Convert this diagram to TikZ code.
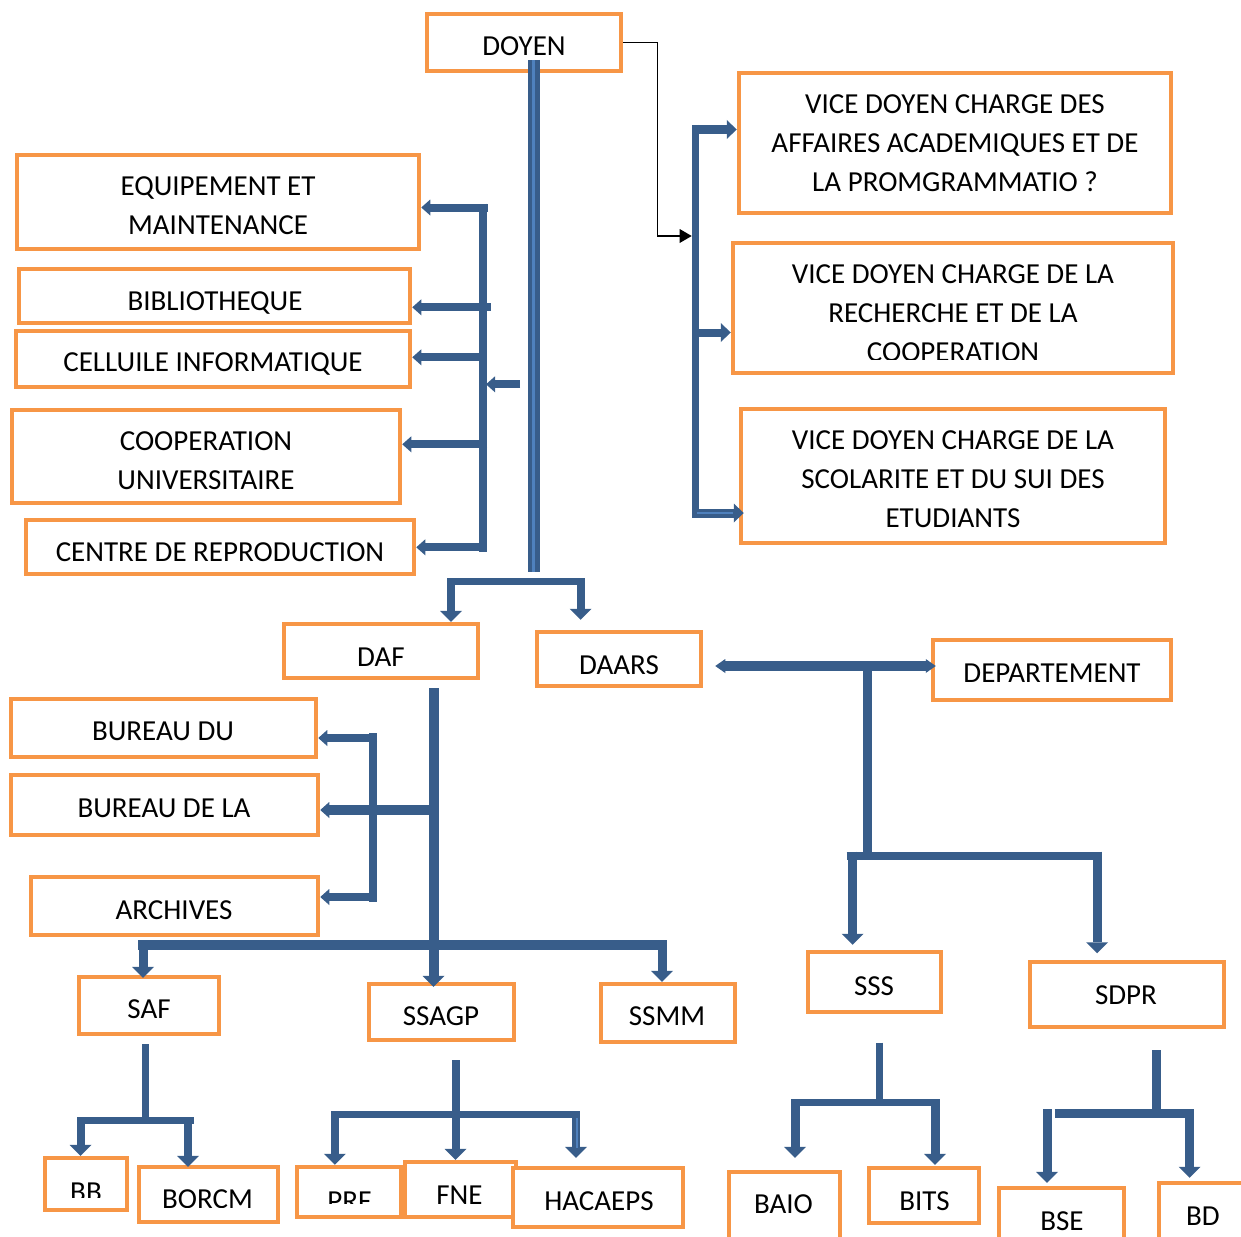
\documentclass[tikz,border=0pt]{standalone}
\usepackage{fontspec}
\setmainfont{Carlito}
\usetikzlibrary{arrows.meta}
\definecolor{orangeC}{HTML}{F79646}
\definecolor{blueC}{HTML}{385D8A}
\definecolor{blueL}{HTML}{4F81BD}
\begin{document}
\begin{tikzpicture}[x=1pt,y=-1pt,
  obox/.style={draw=orangeC, line width=4.5pt, fill=white, inner sep=0pt},
  txt/.style={inner sep=0pt, outer sep=0pt, align=center, font=\fontsize{29}{39}\selectfont, text depth=0pt},
  bus/.style={draw=blueC, line width=8pt},
  darr/.style={bus, -{Triangle[width=22pt,length=11pt,line width=0pt]}},
  larr/.style={bus, -{Triangle[width=16pt,length=9pt,line width=0pt]}},
  rarr/.style={bus, -{Triangle[width=19pt,length=10pt,line width=0pt]}},
  blk/.style={draw=black, line width=1.3pt, -{Triangle[width=14pt,length=12pt,line width=0pt]}}
]
\useasboundingbox (0,0) rectangle (1241,1236);
\clip (0,0) rectangle (1241,1236);

% ---------- boxes ----------
\node[obox, minimum width=194pt, minimum height=57pt] (doyen) at (524,42.5) {};
\node[txt] (doyenT) at (524,46) {DOYEN};

\node[obox, minimum width=402pt, minimum height=94pt] (equip) at (218,202) {};
\node[txt] (equipT) at (218,205.5) {EQUIPEMENT ET\\MAINTENANCE};
\node[obox, minimum width=391pt, minimum height=54pt] (biblio) at (214.5,296) {};
\node[txt] (biblioT) at (215,301) {BIBLIOTHEQUE};
\node[obox, minimum width=394pt, minimum height=56pt] (cellule) at (213,359) {};
\node[txt] (celluleT) at (213,362) {CELLUILE INFORMATIQUE};
\node[obox, minimum width=388pt, minimum height=93pt] (coop) at (206,456.5) {};
\node[txt] (coopT) at (206,460.5) {COOPERATION\\UNIVERSITAIRE};
\node[obox, minimum width=388pt, minimum height=54pt] (centre) at (220,547) {};
\node[txt] (centreT) at (220,552) {CENTRE DE REPRODUCTION};

\node[obox, minimum width=432pt, minimum height=140pt] (vd1) at (955,143) {};
\node[txt] (vd1T) at (955,143) {VICE DOYEN CHARGE DES\\AFFAIRES ACADEMIQUES ET DE\\LA PROMGRAMMATIO ?};
\node[obox, minimum width=440pt, minimum height=130pt] (vd2) at (953,308) {};
\begin{scope}
\clip (733,243) rectangle (1173,359.5);
\node[txt] (vd2T) at (953,313.5) {VICE DOYEN CHARGE DE LA\\RECHERCHE ET DE LA\\COOPERATION};
\end{scope}
\node[obox, minimum width=424pt, minimum height=134pt] (vd3) at (953,476) {};
\node[txt] (vd3T) at (953,479) {VICE DOYEN CHARGE DE LA\\SCOLARITE ET DU SUI DES\\ETUDIANTS};

\node[obox, minimum width=194pt, minimum height=54pt] (daf) at (381,651) {};
\node[txt] (dafT) at (381,657) {DAF};
\node[obox, minimum width=164pt, minimum height=54pt] (daars) at (619,659) {};
\node[txt] (daarsT) at (619,665) {DAARS};
\node[obox, minimum width=238pt, minimum height=60pt] (dept) at (1052,670) {};
\node[txt] (deptT) at (1052,673) {DEPARTEMENT};

\node[obox, minimum width=305pt, minimum height=58pt] (bdu) at (163.5,728) {};
\node[txt] (bduT) at (163,731) {BUREAU DU};
\node[obox, minimum width=307pt, minimum height=60pt] (bdela) at (164.5,805) {};
\node[txt] (bdelaT) at (164,808) {BUREAU DE LA};
\node[obox, minimum width=287pt, minimum height=58pt] (arch) at (174.5,906) {};
\node[txt] (archT) at (174,910) {ARCHIVES};

\node[obox, minimum width=140pt, minimum height=57pt] (saf) at (149,1005.5) {};
\node[txt] (safT) at (149,1009) {SAF};
\node[obox, minimum width=145pt, minimum height=56pt] (ssagp) at (441.5,1012) {};
\node[txt] (ssagpT) at (441,1016) {SSAGP};
\node[obox, minimum width=134pt, minimum height=58pt] (ssmm) at (668,1013) {};
\node[txt] (ssmmT) at (667,1016) {SSMM};
\node[obox, minimum width=133pt, minimum height=60pt] (sss) at (874.5,982) {};
\node[txt] (sssT) at (874,986) {SSS};
\node[obox, minimum width=194pt, minimum height=65pt] (sdpr) at (1127,994.5) {};
\node[txt] (sdprT) at (1126,995) {SDPR};

\node[obox, minimum width=82pt, minimum height=52pt] (bb) at (86,1184) {};
\begin{scope}
\clip (45,1158) rectangle (127,1197);
\node[txt] (bbT) at (86,1192.5) {BB};
\end{scope}
\node[obox, minimum width=139pt, minimum height=55pt] (borcm) at (208.5,1194.5) {};
\begin{scope}
\clip (139,1167) rectangle (278,1207);
\node[txt] (borcmT) at (207.5,1199.5) {BORCM};
\end{scope}
\node[obox, minimum width=104pt, minimum height=50pt] (prf) at (349,1192) {};
\begin{scope}
\clip (297,1167) rectangle (401,1203);
\node[txt] (prfT) at (349.5,1201.5) {PRF};
\end{scope}
\node[obox, minimum width=111pt, minimum height=55pt] (fne) at (460.5,1189.5) {};
\node[txt] (fneT) at (459.5,1195) {FNE};
\node[obox, minimum width=170pt, minimum height=59pt] (hacaeps) at (598,1197.5) {};
\node[txt] (hacaepsT) at (599,1201) {HACAEPS};
\node[obox, minimum width=111pt, minimum height=86pt] (baio) at (784.5,1215) {};
\node[txt] (baioT) at (783.5,1204) {BAIO};
\node[obox, minimum width=110pt, minimum height=55pt] (bits) at (924,1195.5) {};
\node[txt] (bitsT) at (924.5,1201) {BITS};
\node[obox, minimum width=125pt, minimum height=74pt] (bse) at (1061.5,1225) {};
\node[txt] (bseT) at (1062,1221.5) {BSE};
\node[obox, minimum width=102pt, minimum height=78pt] (bd) at (1210,1222) {};
\node[txt] (bdT) at (1203,1216) {BD};

% ---------- DOYEN trunk ----------
\coordinate (dTop) at (533.5,60);
\coordinate (dBot) at (533.5,572);
\draw[bus, line width=12pt] (dTop) -- (dBot);
\draw[blueL, line width=3pt] (dTop) -- (dBot);

% ---------- left group ----------
\coordinate (lv1) at (482.5,203.5);
\coordinate (lv2) at (482.5,551.5);
\draw[bus] (lv1) -- (lv2);
\coordinate (lE) at (488,207.5);
\coordinate (lB) at (490.7,307.3);
\coordinate (lC) at (486,357.3);
\coordinate (lS) at (520,384.3);
\coordinate (lCo) at (487,444.3);
\coordinate (lCe) at (486,547.3);
\draw[larr] (lE) -- (lE -| equip.east);
\draw[larr] (lB) -- (lB -| biblio.east);
\draw[larr] (lC) -- (lC -| cellule.east);
\draw[larr, shorten >=3.5pt] (lS) -- (lS -| lv1);
\draw[larr] (lCo) -- (lCo -| coop.east);
\draw[larr] (lCe) -- (lCe -| centre.east);

% ---------- right group ----------
\coordinate (rv1) at (695.5,125);
\coordinate (rv2) at (695.5,518);
\draw[bus, line width=7pt] (rv1) -- (rv2);
\coordinate (rA) at (692,129.5);
\coordinate (rB) at (692,332.5);
\coordinate (rC) at (692,513);
\draw[rarr, line width=9pt] (rA) -- (rA -| vd1.west);
\draw[rarr] (rB) -- (rB -| vd2.west);
\draw[rarr, line width=9pt, shorten >=-5pt] (rC) -- (rC -| vd3.west);
\draw[blueL, line width=2pt] (697,513) -- (733,513);
\coordinate (bk1) at (657.7,236);
\draw[blk, shorten >=3.8pt] (doyen.east) -| (bk1) -- (bk1 -| rv1);

% ---------- DAF / DAARS split ----------
\coordinate (tL) at (451,581.5);
\coordinate (tR) at (580.5,581.5);
\draw[bus, line width=7pt] (447,581.5) -- (584.5,581.5);
\draw[darr] (451,578) -- (daf.north -| tL);
\draw[darr, shorten >=10pt] (580.5,578) -- (daars.north -| tR);

% ---------- DAARS - DEPARTEMENT ----------
\coordinate (dd) at (867,666);
\draw[bus, line width=10pt,
  {Triangle[width=14pt,length=10pt,line width=0pt]}-{Triangle[width=14pt,length=10pt,line width=0pt]},
  shorten <=12pt, shorten >=-5pt] (dd -| daars.east) -- (dd -| dept.west);
\coordinate (ddB) at (867,855.5);
\draw[bus, line width=9pt] (dd) -- (ddB);
\draw[bus] (846.7,855.5) -- (1102,855.5);
\draw[darr, line width=9pt, shorten >=5pt] (852.5,851.5) -- (sss.north -| 852.5,0);
\draw[darr, line width=9pt, shorten >=6.5pt] (1097,851.5) -- (sdpr.north -| 1097,0);

% ---------- DAF group ----------
\coordinate (dm) at (433.5,810);
\draw[darr, line width=10pt, shorten >=-5pt] (433.5,688) -- (ssagp.north -| dm);
\draw[larr, line width=10pt] (dm) -- (dm -| bdela.east);
\draw[bus] (373,733) -- (373,901.7);
\coordinate (bu1) at (377,738);
\coordinate (bu3) at (377,897);
\draw[larr] (bu1) -- (bu1 -| bdu.east);
\draw[larr] (bu3) -- (bu3 -| arch.east);
\coordinate (db) at (433.5,945);
\draw[bus, line width=10pt] (138,945) -- (667,945);
\draw[darr, line width=9pt, shorten >=-3pt] (143,941) -- (saf.north -| 143,0);
\draw[darr, line width=9pt] (662,941) -- (ssmm.north -| 662,0);

% ---------- SAF group ----------
\draw[bus, line width=7pt] (145.3,1044) -- (145.3,1120);
\draw[bus, line width=7pt] (78,1120) -- (194,1120);
\draw[darr] (80.5,1117) -- (bb.north -| 80.5,0);
\draw[darr, shorten >=-2pt] (188,1117) -- (borcm.north -| 188,0);

% ---------- SSAGP group ----------
\draw[bus] (455.5,1060) -- (455.5,1114.5);
\draw[bus, line width=7pt] (332.6,1114.5) -- (580,1114.5);
\draw[darr] (455.5,1111) -- (fne.north -| 455.5,0);
\draw[darr] (334.8,1111) -- (prf.north -| 334.8,0);
\draw[darr, shorten >=8pt] (576,1111) -- (hacaeps.north -| 576,0);
\draw[blueL, line width=1.5pt] (577,1118) -- (577,1148);

% ---------- SSS group ----------
\draw[bus, line width=7pt] (879.5,1042.7) -- (879.5,1102.5);
\draw[bus, line width=7pt] (791.4,1102.5) -- (938,1102.5);
\draw[darr, line width=9pt, shorten >=12pt] (795,1099) -- (baio.north -| 795,0);
\draw[darr, line width=9pt, shorten >=1pt] (935,1099) -- (bits.north -| 935,0);

% ---------- SDPR group ----------
\draw[bus, line width=8.5pt] (1156.5,1050) -- (1156.5,1113.5);
\draw[bus, line width=8.5pt] (1054.7,1113.5) -- (1184.8,1113.5);
\draw[darr, line width=9pt, shorten >=3pt] (1047,1109) -- (bse.north -| 1047,0);
\draw[darr, line width=9pt, shorten >=3pt] (1189.5,1109) -- (bd.north -| 1189.5,0);
\end{tikzpicture}
\end{document}
